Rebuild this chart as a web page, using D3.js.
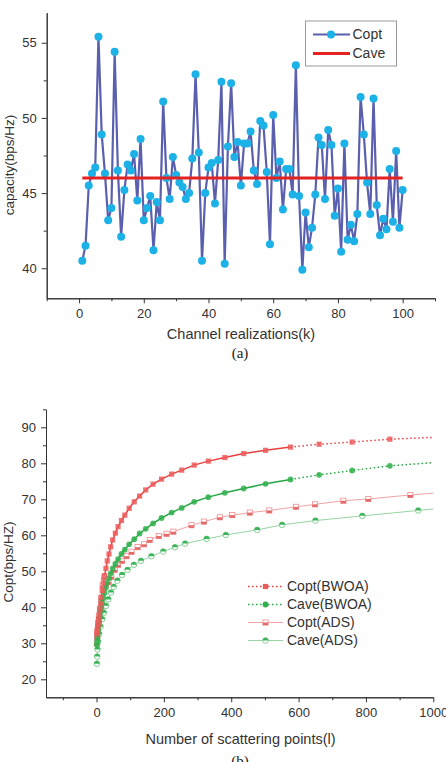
<!DOCTYPE html>
<html>
<head>
<meta charset="utf-8">
<script src="https://cdn.jsdelivr.net/npm/d3@7"></script>
<style>
  body { margin: 0; background: #fff; }
  svg { display: block; font-family: "Liberation Sans", Arial, sans-serif; }
  .axis path, .axis line { stroke: #333; }
  .axis text { fill: #333; font-size: 13px; font-family: "Liberation Sans", Arial, sans-serif; }
</style>
</head>
<body>
<svg id="chart" width="446" height="762"></svg>
<script>
// ---- (a) capacity vs channel realization ----
const coptA = [
  40.5, 41.5, 45.5, 46.3, 46.7, 55.4, 48.9, 46.3, 43.2, 44.0,
  54.4, 46.5, 42.1, 45.2, 46.9, 46.5, 47.6, 44.5, 48.6, 43.2,
  44.0, 44.8, 41.2, 44.4, 43.2, 51.1, 46.0, 44.6, 47.4, 46.2,
  45.7, 45.4, 44.6, 45.0, 47.3, 52.9, 47.7, 40.5, 45.0, 46.7,
  47.0, 44.3, 47.2, 52.4, 40.3, 48.1, 52.3, 47.4, 48.4, 45.5,
  48.3, 48.3, 49.1, 46.5, 45.6, 49.8, 49.5, 46.4, 41.6, 50.2,
  46.0, 47.1, 43.9, 46.6, 46.6, 44.9, 53.5, 44.8, 39.9, 43.7,
  41.4, 42.7, 44.9, 48.7, 48.2, 44.6, 49.2, 48.2, 43.5, 45.3,
  41.1, 48.3, 41.9, 42.9, 41.8, 43.6, 51.4, 48.9, 45.7, 43.6,
  51.3, 44.2, 42.2, 43.3, 42.6, 46.6, 43.1, 47.8, 42.7, 45.2
];
const caveA = 46.0;
const aYTicks = [40, 45, 50, 55];
const aYMinor = [42.5, 47.5, 52.5];
const aXTicks = [0, 20, 40, 60, 80, 100];
const aXMinor = [-10, 10, 30, 50, 70, 90, 110];

// ---- (b) capacity vs number of scattering points ----
const bwoaX = [1, 2, 3, 4, 5, 6, 8, 10, 12, 14, 17, 20, 24, 28, 32, 37, 42, 48, 56, 64,
  74, 84, 97, 112, 128, 146, 168, 193, 223, 253, 290, 332, 381, 437, 502, 576, 661, 759, 871];
const coptBWOA = [32.6, 33.3, 34.0, 34.8, 35.6, 36.6, 38.0, 39.5, 41.0, 42.8, 44.6, 46.7, 48.8, 50.8, 52.9, 54.8, 56.8, 58.7, 60.6, 62.4,
  64.1, 65.6, 67.5, 69.3, 70.9, 72.6, 74.2, 75.6, 77.0, 78.1, 79.5, 80.6, 81.6, 82.7, 83.6, 84.5, 85.3, 85.9, 86.7];
const caveBWOA = [29.6, 30.6, 31.6, 32.6, 33.6, 34.7, 36.0, 37.3, 38.6, 39.9, 41.3, 42.6, 44.0, 45.4, 46.8, 48.1, 49.4, 50.8, 52.1, 53.4,
  54.8, 56.0, 57.5, 58.9, 60.5, 61.8, 63.3, 64.8, 66.3, 67.6, 69.3, 70.6, 71.8, 73.0, 74.3, 75.5, 76.8, 78.0, 79.3];
const bwoaSolidMax = 576;          // solid line up to here, dotted beyond
const tailX = 1000;
const coptBWOATail = 87.2, caveBWOATail = 80.2;

const coptAdsX = [1, 2, 3, 5, 7, 10, 14, 18, 22, 28, 36, 44, 54, 64, 76, 89, 104, 122, 141, 158,
  185, 208, 228, 282, 319, 366, 403, 455, 513, 592, 649, 733, 807, 932];
const coptADS = [30.0, 31.8, 33.5, 35.6, 37.5, 39.5, 42.5, 46.0, 48.3, 46.4, 47.0, 48.5, 50.4, 51.8, 52.9, 54.2, 55.4, 56.7, 57.5, 58.7,
  59.8, 60.4, 61.0, 62.8, 63.8, 65.0, 65.6, 66.3, 66.9, 67.9, 68.6, 69.6, 70.1, 71.2];
const coptADSTail = 71.7;

const caveAdsX = [1, 2, 3, 5, 8, 12, 17, 22, 28, 35, 43, 51, 62, 76, 92, 111, 132, 163, 198, 233,
  263, 327, 384, 477, 551, 650, 789, 955];
const caveADS = [24.3, 26.3, 28.3, 30.4, 32.6, 34.6, 36.7, 38.5, 40.4, 42.2, 44.1, 45.7, 47.4, 49.0, 50.4, 51.8, 52.9, 54.2, 55.5, 56.7,
  57.7, 59.0, 60.1, 61.5, 62.9, 64.1, 65.4, 66.9];
const caveADSTail = 67.3;

const bYTicks = [20, 30, 40, 50, 60, 70, 80, 90];
const bYMinor = [25, 35, 45, 55, 65, 75, 85, 95];
const bXTicks = [0, 200, 400, 600, 800, 1000];
const bXMinor = [-100, 100, 300, 500, 700, 900];

const legendB = ["Copt(BWOA)", "Cave(BWOA)", "Copt(ADS)", "Cave(ADS)"];

const svg = d3.select("#chart");

function axes(g, x, y, xt, xm, yt, ym) {
  const [x0] = x.range(), [y0] = y.range();
  const fmt = d3.format("d");
  g.append("g").attr("class", "axis").attr("transform", `translate(0,${y0})`)
    .call(d3.axisBottom(x).tickValues(xt).tickFormat(fmt).tickSize(5).tickSizeOuter(0).tickPadding(5));
  g.append("g").attr("class", "axis").attr("transform", `translate(0,${y0})`)
    .call(d3.axisBottom(x).tickValues(xm).tickSize(3).tickSizeOuter(0).tickFormat(""));
  g.append("g").attr("class", "axis").attr("transform", `translate(${x0},0)`)
    .call(d3.axisLeft(y).tickValues(yt).tickFormat(fmt).tickSize(5).tickSizeOuter(0).tickPadding(5));
  g.append("g").attr("class", "axis").attr("transform", `translate(${x0},0)`)
    .call(d3.axisLeft(y).tickValues(ym).tickSize(3).tickSizeOuter(0).tickFormat(""));
}

// ================= chart (a) =================
{
  const g = svg.append("g");
  const x = d3.scaleLinear().domain([-10, 110]).range([46.7, 435]);
  const y = d3.scaleLinear().domain([38, 57]).range([298.3, 12.7]);
  axes(g, x, y, aXTicks, aXMinor, aYTicks, aYMinor);

  const pts = coptA.map((v, i) => ({ k: i + 1, v }));
  g.append("path").datum(pts)
    .attr("fill", "none").attr("stroke", "#5a5fae").attr("stroke-width", 2.2)
    .attr("d", d3.line().x(d => x(d.k)).y(d => y(d.v)));
  g.append("g").selectAll("circle").data(pts).join("circle")
    .attr("cx", d => x(d.k)).attr("cy", d => y(d.v)).attr("r", 4)
    .attr("fill", "#1cb2e8");
  g.append("line")
    .attr("x1", x(1)).attr("x2", x(100)).attr("y1", y(caveA)).attr("y2", y(caveA))
    .attr("stroke", "#e42222").attr("stroke-width", 3);

  // legend
  const lg = g.append("g");
  lg.append("rect").attr("x", 305.5).attr("y", 21).attr("width", 91).attr("height", 45)
    .attr("fill", "#fff").attr("stroke", "#999").attr("stroke-width", 1);
  lg.append("line").attr("x1", 313).attr("x2", 350).attr("y1", 34.5).attr("y2", 34.5)
    .attr("stroke", "#5a5fae").attr("stroke-width", 2.2);
  lg.append("circle").attr("cx", 331).attr("cy", 34.5).attr("r", 4).attr("fill", "#1cb2e8");
  lg.append("line").attr("x1", 313).attr("x2", 350).attr("y1", 53.5).attr("y2", 53.5)
    .attr("stroke", "#e42222").attr("stroke-width", 3);
  lg.selectAll("text").data(["Copt", "Cave"]).join("text")
    .attr("x", 352.5).attr("y", (d, i) => 34.5 + i * 19).attr("dy", "0.35em")
    .attr("font-size", 14).attr("fill", "#333").text(d => d);

  g.append("text").attr("transform", "translate(9,165) rotate(-90)")
    .attr("text-anchor", "middle").attr("dy", "0.35em").attr("font-size", 13.5).attr("fill", "#333")
    .text("capacity(bps/Hz)");
  g.append("text").attr("x", 241).attr("y", 334).attr("dy", "0.35em").attr("text-anchor", "middle")
    .attr("font-size", 14.5).attr("fill", "#333").text("Channel realizations(k)");
  g.append("text").attr("x", 240).attr("y", 358).attr("text-anchor", "middle")
    .attr("font-family", "'Liberation Serif', 'Times New Roman', serif")
    .attr("font-size", 15).attr("fill", "#222").text("(a)");
}

// ================= chart (b) =================
{
  const g = svg.append("g");
  const x = d3.scaleLinear().domain([-150, 1000]).range([46, 433.3]);
  const y = d3.scaleLinear().domain([15, 95]).range([697.3, 409.3]);
  axes(g, x, y, bXTicks, bXMinor, bYTicks, bYMinor);

  const line = d3.line().x(d => x(d[0])).y(d => y(d[1]));
  const zip = (xs, ys) => xs.map((v, i) => [v, ys[i]]);

  const sCoptB = zip(bwoaX, coptBWOA), sCaveB = zip(bwoaX, caveBWOA);
  const sCoptA = zip(coptAdsX, coptADS), sCaveA = zip(caveAdsX, caveADS);

  const red = "#e8403f", green = "#27a844";
  const lightRed = "#f3a3a3", lightGreen = "#98d4a4";

  // ADS lines (thin, light)
  g.append("path").datum(sCaveA.concat([[tailX, caveADSTail]]))
    .attr("fill", "none").attr("stroke", lightGreen).attr("stroke-width", 1).attr("d", line);
  g.append("path").datum(sCoptA.concat([[tailX, coptADSTail]]))
    .attr("fill", "none").attr("stroke", lightRed).attr("stroke-width", 1).attr("d", line);

  // BWOA lines: solid then dotted tail
  [[sCoptB, coptBWOATail, red], [sCaveB, caveBWOATail, green]].forEach(([s, tail, c]) => {
    g.append("path").datum(s.filter(d => d[0] <= bwoaSolidMax))
      .attr("fill", "none").attr("stroke", c).attr("stroke-width", 1.5).attr("d", line);
    g.append("path").datum(s.filter(d => d[0] >= bwoaSolidMax).concat([[tailX, tail]]))
      .attr("fill", "none").attr("stroke", c).attr("stroke-width", 1.5)
      .attr("stroke-dasharray", "1.5,2.5").attr("d", line);
  });

  // half-filled markers
  function halfSquare(sel, fillC, strokeC) {
    sel.append("rect").attr("x", -2.6).attr("y", -2.6).attr("width", 5.2).attr("height", 5.2)
      .attr("fill", "#fff").attr("stroke", strokeC).attr("stroke-width", 0.8);
    sel.append("rect").attr("x", -2.6).attr("y", 0).attr("width", 5.2).attr("height", 2.6)
      .attr("fill", fillC);
  }
  function halfCircle(sel, fillC, strokeC) {
    sel.append("circle").attr("r", 2.8).attr("fill", "#fff").attr("stroke", strokeC).attr("stroke-width", 0.8);
    sel.append("path").attr("d", "M-2.8,0A2.8,2.8 0 0 1 2.8,0Z").attr("fill", fillC);
  }

  g.append("g").selectAll("g").data(sCaveA).join("g")
    .attr("transform", d => `translate(${x(d[0])},${y(d[1])})`)
    .call(halfCircle, "#3cb55a", "#6cc47f");
  g.append("g").selectAll("g").data(sCoptA).join("g")
    .attr("transform", d => `translate(${x(d[0])},${y(d[1])})`)
    .call(halfSquare, "#e46a6a", "#ef8d8d");

  g.append("g").selectAll("circle").data(sCaveB).join("circle")
    .attr("cx", d => x(d[0])).attr("cy", d => y(d[1])).attr("r", 2.9)
    .attr("fill", "#2fb04c").attr("fill-opacity", 0.85);
  g.append("g").selectAll("rect").data(sCoptB).join("rect")
    .attr("x", d => x(d[0]) - 2.6).attr("y", d => y(d[1]) - 2.6)
    .attr("width", 5.2).attr("height", 5.2)
    .attr("fill", "#ec5a5a").attr("fill-opacity", 0.85);

  // legend
  const ly = [586.5, 604.5, 622.5, 640.5];
  const lg = g.append("g");
  legendB.forEach((name, i) => {
    const yy = ly[i];
    const bwoa = i < 2;
    const c = i === 0 ? red : i === 1 ? green : i === 2 ? lightRed : lightGreen;
    lg.append("line").attr("x1", 248).attr("x2", 283).attr("y1", yy).attr("y2", yy)
      .attr("stroke", c).attr("stroke-width", bwoa ? 1.5 : 1)
      .attr("stroke-dasharray", bwoa ? "1.5,2.5" : null);
    const m = lg.append("g").attr("transform", `translate(265.5,${yy})`);
    if (i === 0) m.append("rect").attr("x", -2.6).attr("y", -2.6).attr("width", 5.2).attr("height", 5.2).attr("fill", "#ec5a5a");
    if (i === 1) m.append("circle").attr("r", 2.9).attr("fill", "#2fb04c");
    if (i === 2) halfSquare(m, "#e46a6a", "#ef8d8d");
    if (i === 3) halfCircle(m, "#3cb55a", "#6cc47f");
    lg.append("text").attr("x", 287).attr("y", yy).attr("dy", "0.35em")
      .attr("font-size", 14).attr("fill", "#333").text(name);
  });

  g.append("text").attr("transform", "translate(8,562) rotate(-90)")
    .attr("text-anchor", "middle").attr("dy", "0.35em").attr("font-size", 13.5).attr("fill", "#333")
    .text("Copt(bps/HZ)");
  g.append("text").attr("x", 240.5).attr("y", 739).attr("dy", "0.35em").attr("text-anchor", "middle")
    .attr("font-size", 14.5).attr("fill", "#333").text("Number of scattering points(l)");
  g.append("text").attr("x", 240).attr("y", 766).attr("text-anchor", "middle")
    .attr("font-family", "'Liberation Serif', 'Times New Roman', serif")
    .attr("font-size", 15).attr("fill", "#222").text("(b)");
}
</script>
</body>
</html>
